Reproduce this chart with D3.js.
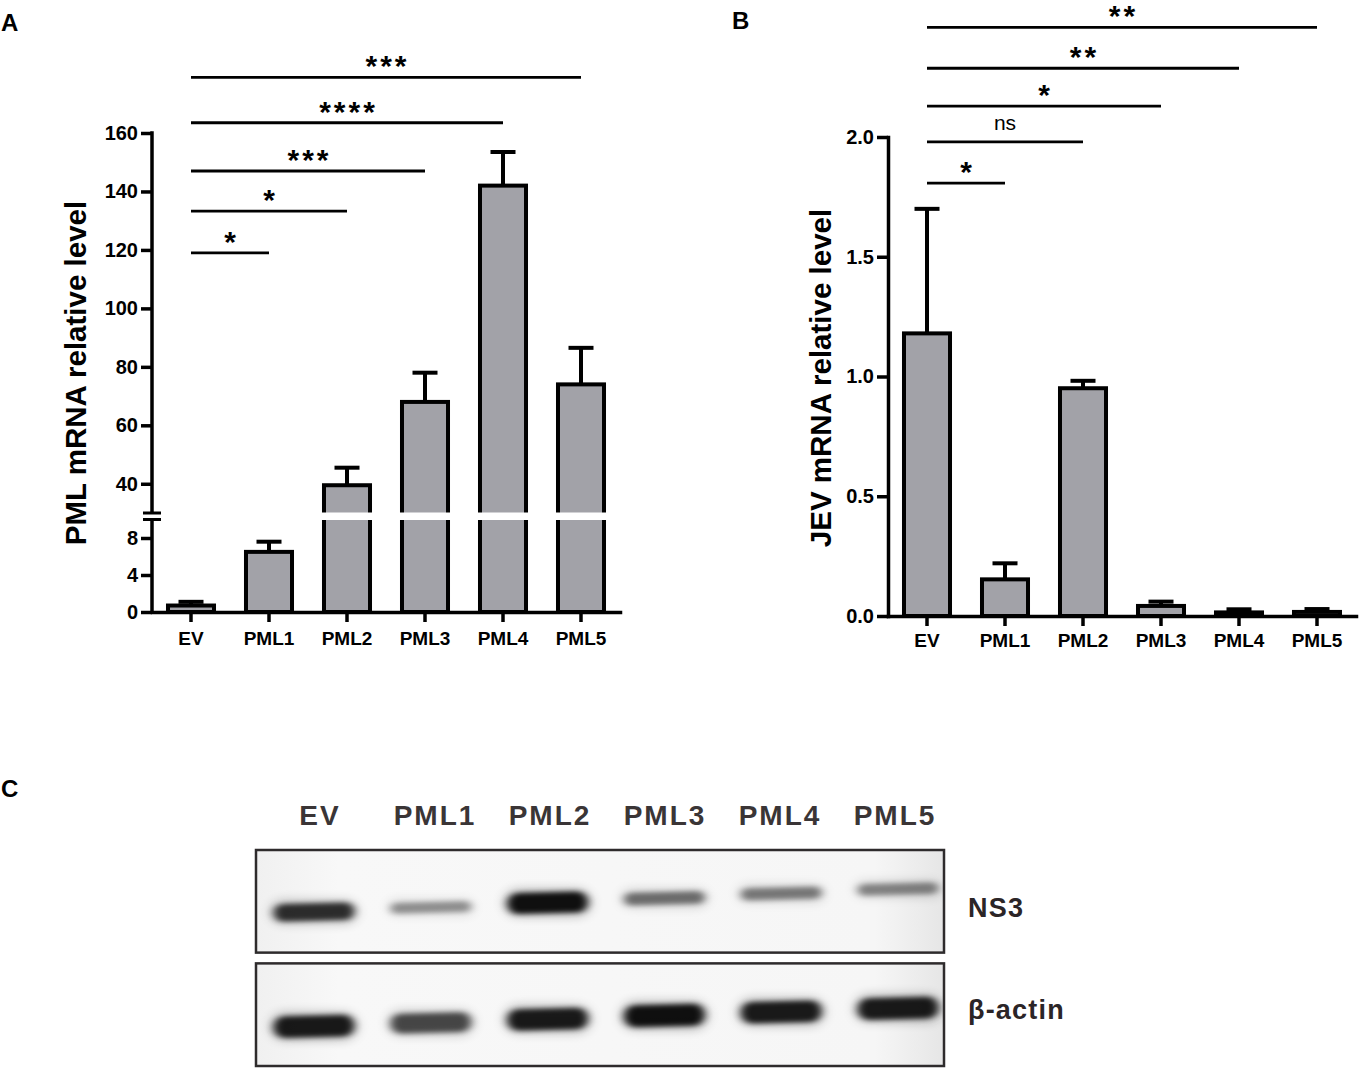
<!DOCTYPE html>
<html><head><meta charset="utf-8">
<script src="https://cdn.jsdelivr.net/npm/d3@7"></script>
<style>
body{margin:0;background:#fff}
svg{display:block}
text{font-family:Arial,"Liberation Sans",Helvetica,sans-serif}
</style>
</head><body>
<svg id="chart" width="1359" height="1071"></svg>
<script>
// ---------- data ----------
const categories = ["EV","PML1","PML2","PML3","PML4","PML5"];
const pmlMean = [0.7, 6.5, 39.5, 68, 142, 74];
const pmlErr  = [0.4, 1.1, 6, 10, 11.5, 12.5];
const jevMean = [1.18, 0.153, 0.951, 0.042, 0.015, 0.017];
const jevErr  = [0.52, 0.067, 0.031, 0.018, 0.013, 0.012];
const pmlTicksLow  = [0, 4, 8];
const pmlTicksHigh = [40, 60, 80, 100, 120, 140, 160];
const jevTicks = [0, 0.5, 1.0, 1.5, 2.0];
const sigA_to    = ["PML1","PML2","PML3","PML4","PML5"];
const sigA_label = ["*","*","***","****","***"];
const sigA_at    = [119, 133.3, 147, 163.5, 179];
const sigB_to    = ["PML1","PML2","PML3","PML4","PML5"];
const sigB_label = ["*","ns","*","**","**"];
const sigB_at    = [1.807, 1.98, 2.129, 2.287, 2.458];
const ns3Intensity   = [0.85, 0.40, 1.0, 0.55, 0.50, 0.45];
const actinIntensity = [0.95, 0.72, 0.95, 1.0, 0.95, 0.95];
const blotRows = ["NS3", "β-actin"];

// ---------- setup ----------
const svg = d3.select("#chart");
const barFill = "#a2a2a8";
const defs = svg.append("defs");

function panelLetter(t, x, y){
  svg.append("text").attr("x", x).attr("y", y).attr("font-size", 24)
     .attr("font-weight", "bold").text(t);
}
panelLetter("A", 1, 31);
panelLetter("B", 732, 29);
panelLetter("C", 1, 797);

function drawBars(g, x, y, means, errs){
  const bw = x.bandwidth();
  const eb = g.append("g");
  categories.forEach((c, i) => {
    const cx = x(c) + bw/2;
    eb.append("line").attr("x1", cx).attr("x2", cx)
      .attr("y1", y(means[i])).attr("y2", y(means[i] + errs[i]))
      .attr("stroke", "#000").attr("stroke-width", 4);
    eb.append("line").attr("x1", cx - 12.5).attr("x2", cx + 12.5)
      .attr("y1", y(means[i] + errs[i])).attr("y2", y(means[i] + errs[i]))
      .attr("stroke", "#000").attr("stroke-width", 4);
  });
  g.append("g").selectAll("rect").data(categories).join("rect")
    .attr("x", d => x(d)).attr("width", bw)
    .attr("y", (d, i) => y(means[i]))
    .attr("height", (d, i) => y(0) - y(means[i]))
    .attr("fill", barFill).attr("stroke", "#000").attr("stroke-width", 4);
}

function drawSig(g, x, y, tos, labels, ats){
  const bw = x.bandwidth();
  tos.forEach((t, i) => {
    const x1 = x("EV") + bw/2, x2 = x(t) + bw/2, yy = y(ats[i]);
    g.append("line").attr("x1", x1).attr("x2", x2).attr("y1", yy).attr("y2", yy)
      .attr("stroke", "#000").attr("stroke-width", 2.8);
    const isNs = labels[i] === "ns";
    g.append("text").attr("x", (x1 + x2)/2 + (isNs ? 0 : 1.5)).attr("y", isNs ? yy - 12 : yy - 1)
      .attr("text-anchor", "middle")
      .attr("font-size", isNs ? 21 : 30)
      .attr("font-weight", isNs ? "normal" : "bold")
      .attr("letter-spacing", isNs ? 0 : 3)
      .text(labels[i]);
  });
}

function styleAxis(ax, fs){
  ax.selectAll(".tick line").attr("stroke", "#000").attr("stroke-width", 3.5);
  ax.selectAll(".tick text").attr("fill", "#000").attr("font-size", fs)
    .attr("font-weight", "bold").attr("font-family", "Arial, 'Liberation Sans', sans-serif");
}

// ---------- Panel A ----------
const gA = svg.append("g");
const xA = d3.scaleBand().domain(categories).range([152, 620]).paddingInner(0.41).paddingOuter(0.205);
const yA = d3.scaleLinear().domain([0, 10, 30, 160]).range([612, 519.5, 513, 133]);

drawBars(gA, xA, yA, pmlMean, pmlErr);
gA.append("rect").attr("x", 154).attr("width", 470).attr("y", yA(30) - 0.5).attr("height", yA(10) - yA(30) + 1).attr("fill", "#fff");

const axAlow = gA.append("g").attr("transform", "translate(152,0)")
  .call(d3.axisLeft(yA).tickValues(pmlTicksLow).tickSize(11).tickPadding(3));
const axAhigh = gA.append("g").attr("transform", "translate(152,0)")
  .call(d3.axisLeft(yA).tickValues(pmlTicksHigh).tickSize(11).tickPadding(3));
[axAlow, axAhigh].forEach(a => { a.select(".domain").remove(); styleAxis(a, 20); });
gA.append("line").attr("x1", 152).attr("x2", 152).attr("y1", yA(0)).attr("y2", yA(10))
  .attr("stroke", "#000").attr("stroke-width", 3.5);
gA.append("line").attr("x1", 152).attr("x2", 152).attr("y1", yA(30)).attr("y2", yA(160) - 1.75)
  .attr("stroke", "#000").attr("stroke-width", 3.5);
[yA(30), yA(10)].forEach(v => gA.append("line").attr("x1", 143).attr("x2", 161)
  .attr("y1", v).attr("y2", v).attr("stroke", "#000").attr("stroke-width", 3));

const axAx = gA.append("g").attr("transform", "translate(0,612)")
  .call(d3.axisBottom(xA).tickSize(10).tickSizeOuter(0).tickPadding(10));
axAx.select(".domain").attr("stroke", "#000").attr("stroke-width", 3.5).attr("stroke-linecap", "square");
styleAxis(axAx, 19);

gA.append("text").attr("transform", "translate(86,373) rotate(-90)")
  .attr("text-anchor", "middle").attr("font-size", 29.5).attr("font-weight", "bold")
  .text("PML mRNA relative level");

drawSig(gA, xA, yA, sigA_to, sigA_label, sigA_at);

// ---------- Panel B ----------
const gB = svg.append("g");
const xB = d3.scaleBand().domain(categories).range([888, 1356]).paddingInner(0.41).paddingOuter(0.205);
const yB = d3.scaleLinear().domain([0, 2]).range([616, 137]);

drawBars(gB, xB, yB, jevMean, jevErr);
const axBy = gB.append("g").attr("transform", "translate(888,0)")
  .call(d3.axisLeft(yB).tickValues(jevTicks).tickFormat(d3.format(".1f")).tickSize(11).tickSizeOuter(0).tickPadding(3));
axBy.select(".domain").attr("stroke", "#000").attr("stroke-width", 3.5).attr("stroke-linecap", "square");
styleAxis(axBy, 20);
const axBx = gB.append("g").attr("transform", "translate(0,616)")
  .call(d3.axisBottom(xB).tickSize(10).tickSizeOuter(0).tickPadding(8));
axBx.select(".domain").attr("stroke", "#000").attr("stroke-width", 3.5).attr("stroke-linecap", "square");
styleAxis(axBx, 19);

gB.append("text").attr("transform", "translate(831,378) rotate(-90)")
  .attr("text-anchor", "middle").attr("font-size", 29.5).attr("font-weight", "bold")
  .text("JEV mRNA relative level");

drawSig(gB, xB, yB, sigB_to, sigB_label, sigB_at);

// ---------- Panel C (western blot) ----------
const gC = svg.append("g");
const lane = d3.scalePoint().domain(categories).range([314, 898]);
const laneLabel = d3.scalePoint().domain(categories).range([319, 894]);
const blotY = d3.scaleBand().domain(blotRows).range([850, 1066]).paddingInner(0.095);

const fOuter = defs.append("filter").attr("id", "blurOuter").attr("x", "-50%").attr("y", "-150%").attr("width", "200%").attr("height", "400%");
fOuter.append("feGaussianBlur").attr("stdDeviation", "6 5");
const fCore = defs.append("filter").attr("id", "blurCore").attr("x", "-50%").attr("y", "-150%").attr("width", "200%").attr("height", "400%");
fCore.append("feGaussianBlur").attr("stdDeviation", "4 2.6");
const grad = defs.append("linearGradient").attr("id", "bg").attr("x1", 0).attr("x2", 1).attr("y1", 0).attr("y2", 0);
grad.append("stop").attr("offset", "0").attr("stop-color", "#f0f0f0");
grad.append("stop").attr("offset", "0.12").attr("stop-color", "#f8f8f8");
grad.append("stop").attr("offset", "0.9").attr("stop-color", "#f6f6f6");
grad.append("stop").attr("offset", "1").attr("stop-color", "#e6e6e6");

blotRows.forEach((row, r) => {
  const by = blotY(row), bh = blotY.bandwidth();
  const clipId = "clip" + r;
  defs.append("clipPath").attr("id", clipId).append("rect")
    .attr("x", 256).attr("y", by).attr("width", 688).attr("height", bh);
  gC.append("rect").attr("x", 256).attr("y", by).attr("width", 688).attr("height", bh)
    .attr("fill", "url(#bg)");
  const bands = gC.append("g").attr("clip-path", `url(#${clipId})`);
  const inten = r === 0 ? ns3Intensity : actinIntensity;
  const baseY = r === 0 ? by + 62 : by + 63;
  const tilt = r === 0 ? 4.6 : 3.6;
  categories.forEach((c, i) => {
    const v = inten[i];
    const cx = lane(c), cy = baseY - i * tilt;
    const h = r === 0 ? 9 + 12 * v * v : 14 + 8 * v;
    const w = 80;
    bands.append("rect").attr("x", cx - w/2 - 4).attr("y", cy - h/2 - 4)
      .attr("width", w + 8).attr("height", h + 8).attr("rx", (h + 8)/2)
      .attr("fill", "#000").attr("opacity", 0.22 * v).attr("filter", "url(#blurOuter)");
    bands.append("rect").attr("x", cx - w/2).attr("y", cy - h/2)
      .attr("width", w).attr("height", h).attr("rx", h/2)
      .attr("fill", "#000").attr("opacity", Math.min(1, 0.92 * v)).attr("filter", "url(#blurCore)")
      .attr("transform", `rotate(-1.5,${cx},${cy})`);
  });
  gC.append("rect").attr("x", 256).attr("y", by).attr("width", 688).attr("height", bh)
    .attr("fill", "none").attr("stroke", "#2e2b2c").attr("stroke-width", 2.5);
  gC.append("text").attr("x", 968).attr("y", r === 0 ? 917 : 1019)
    .attr("font-size", 27).attr("font-weight", "bold").attr("letter-spacing", 1.2)
    .attr("fill", "#2b2527").text(row);
});

gC.append("g").selectAll("text").data(categories).join("text")
  .attr("x", d => laneLabel(d) + 1).attr("y", 825)
  .attr("text-anchor", "middle").attr("font-size", 28).attr("font-weight", "bold")
  .attr("letter-spacing", 2).attr("fill", "#3a3536").text(d => d);
</script>
</body></html>
